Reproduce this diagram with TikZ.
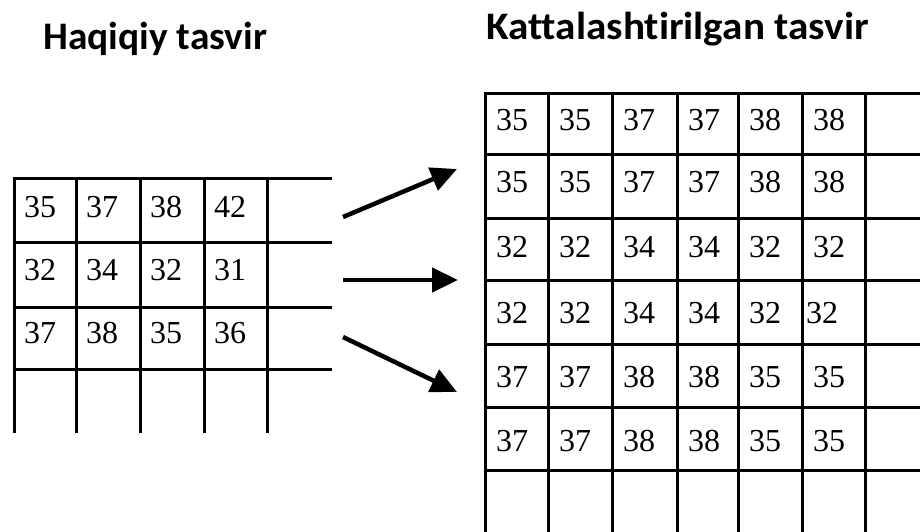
\documentclass[tikz,border=0pt]{standalone}
\usepackage{fontspec}
\setmainfont{Liberation Serif}
\newfontfamily\titlefont[Ligatures=NoCommon]{Carlito}
\usetikzlibrary{arrows.meta}
\begin{document}
\begin{tikzpicture}[x=1pt,y=-1pt,
  gridline/.style={line width=3pt, black},
  num/.style={anchor=base west, inner sep=0pt, font=\fontsize{32}{38}\selectfont},
  ttl/.style={anchor=base west, inner sep=0pt, font=\titlefont\bfseries\fontsize{39}{46}\selectfont},
  arr/.style={line width=4.5pt, -{Triangle[length=26pt,width=24pt]}}]
\useasboundingbox (0,0) rectangle (920,531);
% titles
\node[ttl] (t1) at (43,49) {\scalebox{1.01}[1]{Haqiqiy tasvir}};
\node[ttl] (t2) at (486,39) {\scalebox{1.055}[1]{Kattalashtirilgan tasvir}};
% left grid
\foreach \y in {178,242,307,369} \draw[gridline] (12.5,\y) -- (332,\y);
\foreach \x in {14,76,140,204,267} \draw[gridline] (\x,176.5) -- (\x,433);
% right grid
\foreach \y in {93,154,218,280,344,407,470} \draw[gridline] (483.5,\y) -- (925,\y);
\foreach \x in {485,548,612,677,738,802,865} \draw[gridline] (\x,91.5) -- (\x,535);
% left numbers
\foreach \r/\by/\vals in {1/217/{35,37,38,42},2/280/{32,34,32,31},3/343/{37,38,35,36}}{
  \foreach \v [count=\c] in \vals {
    \pgfmathsetmacro{\xx}{{14,76,140,204}[\c-1]+10}
    \node[num] (L-\r-\c) at (\xx,\by) {\v};
  }
}
% right numbers
\foreach \r/\by/\vals in {1/130/{35,35,37,37,38,38},2/192/{35,35,37,37,38,38},3/257/{32,32,34,34,32,32},5/387/{37,37,38,38,35,35},6/451/{37,37,38,38,35,35}}{
  \foreach \v [count=\c] in \vals {
    \pgfmathsetmacro{\xx}{{485,548,612,677,738,802}[\c-1]+11}
    \node[num] (R-\r-\c) at (\xx,\by) {\v};
  }
}
\foreach \v [count=\c] in {32,32,34,34,32} {
  \pgfmathsetmacro{\xx}{{485,548,612,677,738}[\c-1]+11}
  \node[num] (R-4-\c) at (\xx,323) {\v};
}
\node[num] (R-4-6) at (806,323) {32};
% arrows
\coordinate (a1s) at (343,217); \coordinate (a1e) at (457,169);
\coordinate (a2s) at (343,280); \coordinate (a2e) at (458,280);
\coordinate (a3s) at (343,337); \coordinate (a3e) at (457,392);
\draw[arr] (a1s) -- (a1e);
\draw[arr] (a2s) -- (a2e);
\draw[arr] (a3s) -- (a3e);
\end{tikzpicture}
\end{document}
